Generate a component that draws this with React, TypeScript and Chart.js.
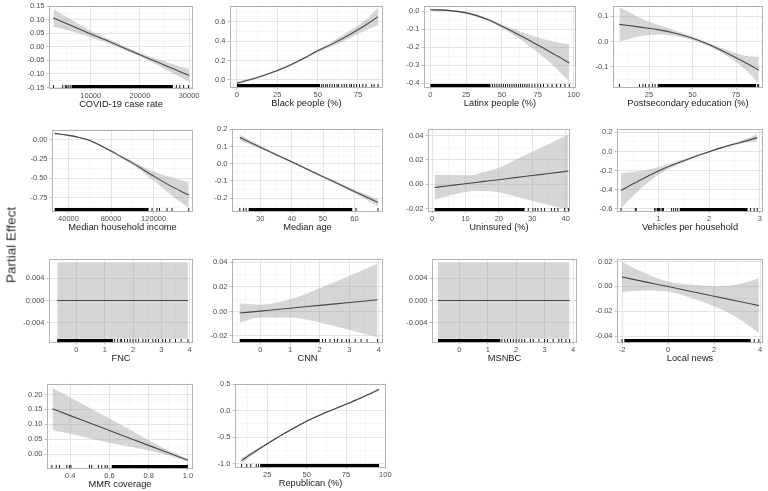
import React, { useEffect, useRef } from "react";
import { Chart, registerables } from "chart.js";
Chart.register(...registerables);

// ---------- DATA ----------
// 1 COVID-19 case rate
const covidX = [2400, 6000, 10000, 14000, 17000, 20000, 24000, 27000, 30000];
const covidFit = [0.107, 0.079, 0.048, 0.018, -0.006, -0.029, -0.06, -0.083, -0.106];
const covidUpper = [0.14, 0.1, 0.06, 0.026, 0.001, -0.022, -0.048, -0.066, -0.082];
const covidLower = [0.074, 0.058, 0.036, 0.01, -0.012, -0.036, -0.072, -0.1, -0.13];
const covidRug = [2400, 4300, 4800, 5100, 5400, 5800, 27400, 28100, 28900, 29900];
const covidRugDense = [[6100, 26700]];
const covidXTicks = [10000, 20000, 30000];
const covidXLabels = ["10000", "20000", "30000"];
const covidYTicks = [-0.15, -0.1, -0.05, 0, 0.05, 0.1, 0.15];
const covidYLabels = ["-0.15", "-0.10", "-0.05", "0.00", "0.05", "0.10", "0.15"];
const covidLimits = [1500, 30800, -0.152, 0.153];

// 2 Black people (%)
const blackX = [0, 10, 20, 30, 40, 50, 60, 70, 80, 87.4];
const blackFit = [-0.035, 0.01, 0.065, 0.13, 0.21, 0.3, 0.38, 0.47, 0.57, 0.655];
const blackUpper = [-0.02, 0.02, 0.075, 0.14, 0.22, 0.315, 0.405, 0.51, 0.625, 0.745];
const blackLower = [-0.05, 0.0, 0.055, 0.12, 0.2, 0.285, 0.355, 0.43, 0.515, 0.565];
const blackRug = [52.5, 53.5, 55, 56, 57.5, 59, 60.5, 62, 63, 65, 66.5, 68, 70, 71, 72.5, 74, 76, 78, 80, 83.5, 85, 87.4];
const blackRugDense = [[0, 51.5]];
const blackXTicks = [0, 25, 50, 75];
const blackXLabels = ["0", "25", "50", "75"];
const blackYTicks = [0, 0.2, 0.4, 0.6];
const blackYLabels = ["0.0", "0.2", "0.4", "0.6"];
const blackLimits = [-4.3, 90.5, -0.075, 0.77];

// 3 Latinx people (%)
const latinxX = [0, 10, 20, 30, 40, 50, 60, 70, 80, 90, 97];
const latinxFit = [0.009, 0.007, -0.001, -0.018, -0.045, -0.083, -0.123, -0.165, -0.21, -0.255, -0.288];
const latinxUpper = [0.014, 0.011, 0.005, -0.012, -0.037, -0.073, -0.104, -0.132, -0.157, -0.175, -0.184];
const latinxLower = [0.004, 0.003, -0.007, -0.024, -0.053, -0.093, -0.142, -0.198, -0.262, -0.334, -0.393];
const latinxRug = [43.5, 45, 46.5, 48, 49.5, 51, 52.5, 54, 55.5, 57, 58.5, 60, 61.5, 63, 64.5, 66, 67.5, 69, 71, 73, 75, 77, 79, 82, 85, 88, 91, 94, 97];
const latinxRugDense = [[0, 42]];
const latinxXTicks = [0, 25, 50, 75, 100];
const latinxXLabels = ["0", "25", "50", "75", "100"];
const latinxYTicks = [-0.4, -0.3, -0.2, -0.1, 0];
const latinxYLabels = ["-0.4", "-0.3", "-0.2", "-0.1", "0.0"];
const latinxLimits = [-4.4, 101.7, -0.422, 0.033];

// 4 Postsecondary education (%)
const postX = [8, 20, 30, 40, 50, 60, 70, 80, 88];
const postFit = [0.068, 0.057, 0.047, 0.033, 0.013, -0.014, -0.047, -0.083, -0.113];
const postUpper = [0.137, 0.093, 0.066, 0.044, 0.02, -0.007, -0.035, -0.057, -0.062];
const postLower = [0.0, 0.021, 0.028, 0.022, 0.006, -0.021, -0.059, -0.109, -0.165];
const postRug = [8, 19.5, 21.5, 23, 25, 27, 28.5, 87.5, 88];
const postRugDense = [[30, 86.5]];
const postXTicks = [25, 50, 75];
const postXLabels = ["25", "50", "75"];
const postYTicks = [-0.1, 0, 0.1];
const postYLabels = ["-0.1", "0.0", "0.1"];
const postLimits = [4.3, 90.5, -0.181, 0.143];

// 5 Median household income
const incomeX = [27000, 40000, 50000, 60000, 70000, 80000, 90000, 100000, 110000, 120000, 135000, 153000];
const incomeFit = [0.08, 0.054, 0.027, -0.012, -0.075, -0.148, -0.225, -0.3, -0.385, -0.47, -0.59, -0.715];
const incomeUpper = [0.092, 0.061, 0.033, -0.005, -0.067, -0.138, -0.21, -0.277, -0.347, -0.412, -0.48, -0.55];
const incomeLower = [0.068, 0.047, 0.021, -0.019, -0.083, -0.158, -0.24, -0.323, -0.423, -0.528, -0.7, -0.88];
const incomeRug = [118500, 123200, 125600, 132600, 137300, 153000];
const incomeRugDense = [[27000, 115300]];
const incomeXTicks = [40000, 80000, 120000];
const incomeXLabels = ["40000", "80000", "120000"];
const incomeYTicks = [-0.75, -0.5, -0.25, 0];
const incomeYLabels = ["-0.75", "-0.50", "-0.25", "0.00"];
const incomeLimits = [24500, 157000, -0.92, 0.13];

// 6 Median age
const ageX = [23.5, 30, 40, 50, 60, 67.5];
const ageFit = [0.152, 0.096, 0.011, -0.075, -0.161, -0.225];
const ageUpper = [0.168, 0.105, 0.016, -0.069, -0.151, -0.204];
const ageLower = [0.136, 0.087, 0.006, -0.081, -0.171, -0.246];
const ageRug = [23.5, 24.7, 25.5, 60.5, 67.5];
const ageRugDense = [[26.3, 59.3]];
const ageXTicks = [30, 40, 50, 60];
const ageXLabels = ["30", "40", "50", "60"];
const ageYTicks = [-0.2, -0.1, 0, 0.1, 0.2];
const ageYLabels = ["-0.2", "-0.1", "0.0", "0.1", "0.2"];
const ageLimits = [21, 69.1, -0.274, 0.204];

// 7 Uninsured (%)
const uninsX = [0.8, 5, 10, 12.5, 15, 20, 25, 30, 35, 40.8];
const uninsFit = [-0.0027, -0.0013, 0.0004, 0.0012, 0.0021, 0.0037, 0.0054, 0.0071, 0.0088, 0.0108];
const uninsUpper = [0.0075, 0.0075, 0.0073, 0.0076, 0.0095, 0.0135, 0.02, 0.0267, 0.033, 0.0405];
const uninsLower = [-0.013, -0.0095, -0.0065, -0.0055, -0.0055, -0.0066, -0.01, -0.0135, -0.017, -0.0205];
const uninsRug = [28.8, 30.2, 30.9, 31.7, 32.7, 33.7, 35.7, 36.7, 37.7, 39.7, 40.8];
const uninsRugDense = [[0.8, 27.7]];
const uninsXTicks = [0, 10, 20, 30, 40];
const uninsXLabels = ["0", "10", "20", "30", "40"];
const uninsYTicks = [-0.02, 0, 0.02, 0.04];
const uninsYLabels = ["-0.02", "0.00", "0.02", "0.04"];
const uninsLimits = [-1.2, 41.3, -0.022, 0.0457];

// 8 Vehicles per household
const vehX = [0.26, 0.5, 0.75, 1, 1.25, 1.5, 1.75, 2, 2.25, 2.5, 2.75, 2.95];
const vehFit = [-0.41, -0.34, -0.27, -0.205, -0.148, -0.097, -0.047, -0.002, 0.04, 0.078, 0.114, 0.145];
const vehUpper = [-0.225, -0.215, -0.195, -0.165, -0.125, -0.082, -0.037, 0.006, 0.05, 0.09, 0.135, 0.185];
const vehLower = [-0.595, -0.465, -0.345, -0.245, -0.171, -0.112, -0.057, -0.01, 0.03, 0.066, 0.093, 0.105];
const vehRug = [0.26, 0.54, 0.56, 0.92, 0.95, 0.98, 1.0, 1.02, 1.05, 1.08, 1.1, 1.26, 1.3, 1.34, 1.38, 2.82, 2.89, 2.95];
const vehRugDense = [[1.42, 2.76]];
const vehXTicks = [1, 2, 3];
const vehXLabels = ["1", "2", "3"];
const vehYTicks = [-0.6, -0.4, -0.2, 0, 0.2];
const vehYLabels = ["-0.6", "-0.4", "-0.2", "0.0", "0.2"];
const vehLimits = [0.18, 3.065, -0.625, 0.241];

// 9 FNC
const fncX = [-0.68, 3.94];
const fncFit = [0, 0];
const fncUpper = [0.0069, 0.0069];
const fncLower = [-0.0069, -0.0069];
const fncRug = [1.35, 1.45, 1.55, 1.6, 1.7, 1.8, 1.9, 2.0, 2.1, 2.2, 2.35, 2.45, 2.55, 2.7, 2.8, 2.9, 3.05, 3.15, 3.3, 3.5, 3.7, 3.94];
const fncRugDense = [[-0.68, 1.29]];
const fncXTicks = [0, 1, 2, 3, 4];
const fncXLabels = ["0", "1", "2", "3", "4"];
const fncYTicks = [-0.004, 0, 0.004];
const fncYLabels = ["-0.004", "0.000", "0.004"];
const fncLimits = [-0.97, 4.12, -0.0075, 0.0076];

// 10 CNN
const cnnX = [-0.7, 0, 1, 2, 3, 3.95];
const cnnFit = [-0.0013, 0.0003, 0.0026, 0.005, 0.0073, 0.0095];
const cnnUpper = [0.0065, 0.0055, 0.01, 0.019, 0.029, 0.039];
const cnnLower = [-0.009, -0.005, -0.005, -0.009, -0.015, -0.021];
const cnnRug = [2.1, 2.2, 2.35, 2.5, 2.6, 2.75, 2.9, 3.0, 3.2, 3.4, 3.6, 3.95];
const cnnRugDense = [[-0.7, 2.0]];
const cnnXTicks = [0, 1, 2, 3, 4];
const cnnXLabels = ["0", "1", "2", "3", "4"];
const cnnYTicks = [-0.02, 0, 0.02, 0.04];
const cnnYLabels = ["-0.02", "0.00", "0.02", "0.04"];
const cnnLimits = [-0.96, 4.14, -0.0249, 0.0432];

// 11 MSNBC
const msnbcX = [-0.75, 3.88];
const msnbcFit = [0, 0];
const msnbcUpper = [0.0069, 0.0069];
const msnbcLower = [-0.0069, -0.0069];
const msnbcRug = [1.5, 1.6, 1.7, 1.8, 1.9, 2.0, 2.1, 2.2, 2.3, 2.5, 2.6, 2.8, 3.0, 3.1, 3.3, 3.5, 3.6, 3.75, 3.88];
const msnbcRugDense = [[-0.75, 1.44]];
const msnbcXTicks = [0, 1, 2, 3, 4];
const msnbcXLabels = ["0", "1", "2", "3", "4"];
const msnbcYTicks = [-0.004, 0, 0.004];
const msnbcYLabels = ["-0.004", "0.000", "0.004"];
const msnbcLimits = [-0.96, 4.14, -0.0075, 0.0076];

// 12 Local news
const localX = [-2, -1, 0, 1, 2, 3, 3.95];
const localFit = [0.0075, 0.0036, -0.0002, -0.0041, -0.008, -0.0118, -0.0155];
const localUpper = [0.0195, 0.0105, 0.0038, 0.0012, 0.0, 0.0015, 0.0065];
const localLower = [-0.0045, -0.0033, -0.0042, -0.0094, -0.016, -0.025, -0.0375];
const localRug = [-2, 3.75, 3.95];
const localRugDense = [[-1.9, 3.6]];
const localXTicks = [-2, 0, 2, 4];
const localXLabels = ["-2", "0", "2", "4"];
const localYTicks = [-0.04, -0.02, 0, 0.02];
const localYLabels = ["-0.04", "-0.02", "0.00", "0.02"];
const localLimits = [-2.22, 4.13, -0.0448, 0.0224];

// 13 MMR coverage
const mmrX = [0.31, 0.4, 0.5, 0.6, 0.7, 0.8, 0.9, 1.0];
const mmrFit = [0.152, 0.129, 0.104, 0.079, 0.054, 0.029, 0.004, -0.021];
const mmrUpper = [0.222, 0.19, 0.155, 0.12, 0.083, 0.046, 0.012, -0.016];
const mmrLower = [0.081, 0.068, 0.053, 0.038, 0.025, 0.012, -0.004, -0.026];
const mmrRug = [0.307, 0.329, 0.346, 0.383, 0.396, 0.404, 0.498, 0.51, 0.544, 0.561, 0.578, 0.589];
const mmrRugDense = [[0.612, 1.0]];
const mmrXTicks = [0.4, 0.6, 0.8, 1.0];
const mmrXLabels = ["0.4", "0.6", "0.8", "1.0"];
const mmrYTicks = [0, 0.05, 0.1, 0.15, 0.2];
const mmrYLabels = ["0.00", "0.05", "0.10", "0.15", "0.20"];
const mmrLimits = [0.282, 1.026, -0.047, 0.237];

// 14 Republican (%)
const repX = [8.7, 15, 25, 35, 50, 62.5, 75, 85, 96];
const repFit = [-0.94, -0.815, -0.625, -0.445, -0.2, -0.03, 0.12, 0.25, 0.4];
const repUpper = [-0.89, -0.78, -0.605, -0.433, -0.19, -0.02, 0.132, 0.265, 0.422];
const repLower = [-0.99, -0.85, -0.645, -0.457, -0.21, -0.04, 0.108, 0.235, 0.378];
const repRug = [8.7, 12, 14.5, 18, 19.5];
const repRugDense = [[20.5, 96]];
const repXTicks = [25, 50, 75, 100];
const repXLabels = ["25", "50", "75", "100"];
const repYTicks = [-1, -0.5, 0, 0.5];
const repYLabels = ["-1.0", "-0.5", "0.0", "0.5"];
const repLimits = [4.5, 100.4, -1.064, 0.513];

const yAxisTitle = "Partial Effect";

type Spec = {
  title: string; x: number[]; fit: number[]; upper: number[]; lower: number[];
  rug: number[]; rugDense: number[][]; xTicks: number[]; xLabels: string[];
  yTicks: number[]; yLabels: string[]; limits: number[];
};

const specs: Spec[] = [
  { title: "COVID-19 case rate", x: covidX, fit: covidFit, upper: covidUpper, lower: covidLower, rug: covidRug, rugDense: covidRugDense, xTicks: covidXTicks, xLabels: covidXLabels, yTicks: covidYTicks, yLabels: covidYLabels, limits: covidLimits },
  { title: "Black people (%)", x: blackX, fit: blackFit, upper: blackUpper, lower: blackLower, rug: blackRug, rugDense: blackRugDense, xTicks: blackXTicks, xLabels: blackXLabels, yTicks: blackYTicks, yLabels: blackYLabels, limits: blackLimits },
  { title: "Latinx people (%)", x: latinxX, fit: latinxFit, upper: latinxUpper, lower: latinxLower, rug: latinxRug, rugDense: latinxRugDense, xTicks: latinxXTicks, xLabels: latinxXLabels, yTicks: latinxYTicks, yLabels: latinxYLabels, limits: latinxLimits },
  { title: "Postsecondary education (%)", x: postX, fit: postFit, upper: postUpper, lower: postLower, rug: postRug, rugDense: postRugDense, xTicks: postXTicks, xLabels: postXLabels, yTicks: postYTicks, yLabels: postYLabels, limits: postLimits },
  { title: "Median household income", x: incomeX, fit: incomeFit, upper: incomeUpper, lower: incomeLower, rug: incomeRug, rugDense: incomeRugDense, xTicks: incomeXTicks, xLabels: incomeXLabels, yTicks: incomeYTicks, yLabels: incomeYLabels, limits: incomeLimits },
  { title: "Median age", x: ageX, fit: ageFit, upper: ageUpper, lower: ageLower, rug: ageRug, rugDense: ageRugDense, xTicks: ageXTicks, xLabels: ageXLabels, yTicks: ageYTicks, yLabels: ageYLabels, limits: ageLimits },
  { title: "Uninsured (%)", x: uninsX, fit: uninsFit, upper: uninsUpper, lower: uninsLower, rug: uninsRug, rugDense: uninsRugDense, xTicks: uninsXTicks, xLabels: uninsXLabels, yTicks: uninsYTicks, yLabels: uninsYLabels, limits: uninsLimits },
  { title: "Vehicles per household", x: vehX, fit: vehFit, upper: vehUpper, lower: vehLower, rug: vehRug, rugDense: vehRugDense, xTicks: vehXTicks, xLabels: vehXLabels, yTicks: vehYTicks, yLabels: vehYLabels, limits: vehLimits },
  { title: "FNC", x: fncX, fit: fncFit, upper: fncUpper, lower: fncLower, rug: fncRug, rugDense: fncRugDense, xTicks: fncXTicks, xLabels: fncXLabels, yTicks: fncYTicks, yLabels: fncYLabels, limits: fncLimits },
  { title: "CNN", x: cnnX, fit: cnnFit, upper: cnnUpper, lower: cnnLower, rug: cnnRug, rugDense: cnnRugDense, xTicks: cnnXTicks, xLabels: cnnXLabels, yTicks: cnnYTicks, yLabels: cnnYLabels, limits: cnnLimits },
  { title: "MSNBC", x: msnbcX, fit: msnbcFit, upper: msnbcUpper, lower: msnbcLower, rug: msnbcRug, rugDense: msnbcRugDense, xTicks: msnbcXTicks, xLabels: msnbcXLabels, yTicks: msnbcYTicks, yLabels: msnbcYLabels, limits: msnbcLimits },
  { title: "Local news", x: localX, fit: localFit, upper: localUpper, lower: localLower, rug: localRug, rugDense: localRugDense, xTicks: localXTicks, xLabels: localXLabels, yTicks: localYTicks, yLabels: localYLabels, limits: localLimits },
  { title: "MMR coverage", x: mmrX, fit: mmrFit, upper: mmrUpper, lower: mmrLower, rug: mmrRug, rugDense: mmrRugDense, xTicks: mmrXTicks, xLabels: mmrXLabels, yTicks: mmrYTicks, yLabels: mmrYLabels, limits: mmrLimits },
  { title: "Republican (%)", x: repX, fit: repFit, upper: repUpper, lower: repLower, rug: repRug, rugDense: repRugDense, xTicks: repXTicks, xLabels: repXLabels, yTicks: repYTicks, yLabels: repYLabels, limits: repLimits },
];

// ---------- LAYOUT (plot-area rectangles in page px: left, top, right, bottom) ----------
const rects: number[][] = [
  [49, 5, 193, 88], [230, 5, 383, 87], [424, 5, 576, 87], [613, 5, 763, 87],
  [52, 129, 193, 211], [232, 128, 383, 211], [428, 128, 570, 211], [617, 128, 763, 211],
  [49, 258, 193, 342], [232, 258, 383, 342], [432, 258, 577, 342], [617, 258, 763, 342],
  [47, 383, 193, 468], [235, 383, 386, 467],
];

const FONT = '"Liberation Sans", Arial, Helvetica, sans-serif';
const Y_W = 48, X_H = 22, PAD_T = 6, PAD_R = 16;

function minorTicks(major: number[], lo: number, hi: number) {
  const step = major.length > 1 ? major[1] - major[0] : 1;
  const out: number[] = [];
  const all = [major[0] - step, ...major, major[major.length - 1] + step];
  for (let i = 0; i < all.length - 1; i++) {
    const m = (all[i] + all[i + 1]) / 2;
    if (m > lo && m < hi) out.push(m);
  }
  return out;
}

function labelFor(v: number, ticks: number[], labels: string[]) {
  for (let i = 0; i < ticks.length; i++) if (Math.abs(ticks[i] - v) < 1e-9 * Math.max(1, Math.abs(v)) + 1e-12) return labels[i];
  return null;
}

function axisOpts(ticks: number[], labels: string[], lo: number, hi: number, horizontal: boolean, title?: string) {
  const majors = ticks.filter((v) => v >= lo && v <= hi);
  const all = [...majors, ...minorTicks(ticks, lo, hi)].sort((a, b) => a - b);
  const isMajor = (ctx: any) => ctx.tick && labelFor(ctx.tick.value, ticks, labels) !== null;
  const o: any = {
    type: "linear",
    min: lo,
    max: hi,
    afterBuildTicks: (s: any) => { s.ticks = all.map((v) => ({ value: v })); },
    afterFit: (s: any) => { if (horizontal) s.height = X_H; else s.width = Y_W; },
    ticks: {
      autoSkip: false, maxRotation: 0, minRotation: 0,
      padding: horizontal ? 1 : 2,
      color: "#4d4d4d",
      font: { family: FONT, size: 7.5 },
      callback: (v: number) => labelFor(v, ticks, labels) ?? "",
    },
    grid: {
      color: (ctx: any) => (isMajor(ctx) ? "#dedede" : "#eeeeee"),
      lineWidth: (ctx: any) => (isMajor(ctx) ? 0.8 : 0.5),
      tickLength: 2.5,
      tickColor: (ctx: any) => (isMajor(ctx) ? "#b3b3b3" : "rgba(0,0,0,0)"),
      tickWidth: 0.8,
    },
    border: { display: false },
  };
  if (title) o.title = { display: true, text: title, color: "#1a1a1a", font: { family: FONT, size: 9.3 }, padding: 0 };
  return o;
}

function Panel({ spec, rect }: { spec: Spec; rect: number[] }) {
  const ref = useRef<HTMLCanvasElement>(null);
  const [L, T, R, B] = rect;
  const w = R - L + Y_W + PAD_R;
  const h = B - T + PAD_T + X_H;
  useEffect(() => {
    const [x0, x1, y0, y1] = spec.limits;
    const band = "rgba(153,153,153,0.4)";
    const chart = new Chart(ref.current as HTMLCanvasElement, {
      type: "line",
      data: {
        datasets: [
          { data: spec.x.map((x, i) => ({ x, y: spec.upper[i] })), borderWidth: 0, pointRadius: 0, fill: "+1", backgroundColor: band, borderColor: "rgba(0,0,0,0)", cubicInterpolationMode: "monotone" },
          { data: spec.x.map((x, i) => ({ x, y: spec.lower[i] })), borderWidth: 0, pointRadius: 0, fill: false, borderColor: "rgba(0,0,0,0)", cubicInterpolationMode: "monotone" },
          { data: spec.x.map((x, i) => ({ x, y: spec.fit[i] })), borderWidth: 1.1, pointRadius: 0, fill: false, borderColor: "#111111", cubicInterpolationMode: "monotone" },
        ],
      } as any,
      options: {
        responsive: false,
        animation: false,
        events: [],
        layout: { padding: { top: PAD_T, right: PAD_R, left: 0, bottom: 0 } },
        plugins: { legend: { display: false }, tooltip: { enabled: false } },
        scales: {
          x: axisOpts(spec.xTicks, spec.xLabels, x0, x1, true, spec.title),
          y: axisOpts(spec.yTicks, spec.yLabels, y0, y1, false),
        },
      } as any,
      plugins: [
        {
          id: "rugAndBorder",
          afterDatasetsDraw(chart: any) {
            const { ctx, chartArea: a, scales } = chart;
            const xs = scales.x;
            const rh = 3;
            ctx.save();
            ctx.fillStyle = "#000000";
            for (const [s, e] of spec.rugDense) {
              const p0 = xs.getPixelForValue(s), p1 = xs.getPixelForValue(e);
              ctx.fillRect(p0, a.bottom - rh, p1 - p0, rh);
            }
            for (const v of spec.rug) {
              const p = xs.getPixelForValue(v);
              ctx.fillRect(p - 0.45, a.bottom - rh, 0.9, rh);
            }
            ctx.strokeStyle = "#b3b3b3";
            ctx.lineWidth = 1;
            ctx.strokeRect(Math.round(a.left) + 0.5, Math.round(a.top) + 0.5, Math.round(a.width) - 1, Math.round(a.height) - 1);
            ctx.restore();
          },
        },
      ],
    });
    return () => chart.destroy();
  }, []);
  return (
    <canvas
      ref={ref}
      width={w}
      height={h}
      style={{ position: "absolute", left: L - Y_W, top: T - PAD_T, width: w, height: h }}
    />
  );
}

export default function App() {
  return (
    <div style={{ position: "fixed", left: 0, top: 0, width: 768, height: 491, background: "#ffffff", overflow: "hidden" }}>
      {specs.map((s, i) => (
        <Panel key={i} spec={s} rect={rects[i]} />
      ))}
      <div
        style={{
          position: "absolute", left: 11, top: 245, transform: "translate(-50%, -50%) rotate(-90deg)",
          whiteSpace: "nowrap", fontFamily: FONT, fontSize: 13.5, fontWeight: 400, color: "#333333",
        }}
      >
        {yAxisTitle}
      </div>
    </div>
  );
}
